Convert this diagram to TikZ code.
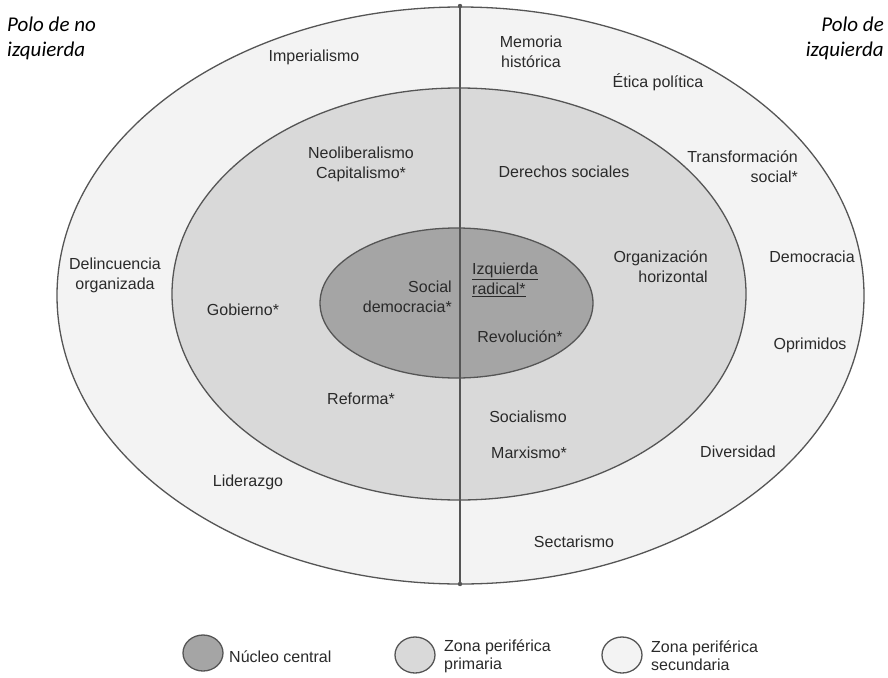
\documentclass[tikz,border=0pt]{standalone}
\usepackage{fontspec}
\setmainfont{Liberation Sans}
\newfontfamily\polofont{Carlito}
\definecolor{edgec}{HTML}{555555}
\definecolor{outerc}{HTML}{F3F3F3}
\definecolor{midc}{HTML}{D9D9D9}
\definecolor{corec}{HTML}{A5A5A5}
\definecolor{txtc}{HTML}{2A2A2A}
\begin{document}
\begin{tikzpicture}[x=1pt,y=-1pt,
  lbl/.style={font=\fontsize{16}{20}\selectfont, text=txtc, inner sep=0pt, align=center},
  leg/.style={font=\fontsize{16}{18}\selectfont, text=txtc, inner sep=0pt, align=left, anchor=west},
  polo/.style={font=\polofont\itshape\fontsize{21}{25}\selectfont, text=black, inner sep=0pt},
  zone/.style={draw=edgec, line width=1.3pt}]
\useasboundingbox (0,0) rectangle (888,677);
\fill[white] (0,0) rectangle (888,677);
% zones
\draw[zone, fill=outerc] (460.5,295.5) ellipse [x radius=403.5pt, y radius=288.5pt];
\draw[zone, fill=midc] (459,294) ellipse [x radius=287pt, y radius=206pt];
\draw[zone, fill=corec] (456.5,303) ellipse [x radius=136.5pt, y radius=75pt];
% axis
\coordinate (axtop) at (460,6);
\coordinate (axbot) at (460,584);
\draw[edgec, line width=1.3pt] (axtop) -- (axbot);
\fill[edgec] (axtop) circle[radius=2.2pt];
\fill[edgec] (axbot) circle[radius=2.2pt];
% poles
\node[polo, anchor=west, align=left] (pololeft) at (7,38) {Polo de no\\izquierda};
\node[polo, anchor=east, align=right] (poloright) at (884,38) {Polo de\\izquierda};
% labels
\node[lbl] (imp) at (314,57) {Imperialismo};
\node[lbl] (mem) at (531,52) {Memoria\\histórica};
\node[lbl] (etica) at (658,82) {Ética política};
\node[lbl, anchor=east, align=right] (transf) at (798,167) {Transformación\\social*};
\node[lbl] (democ) at (812,257) {Democracia};
\node[lbl, anchor=east, align=right] (orgh) at (708,267) {Organización\\horizontal};
\node[lbl] (derechos) at (564,172) {Derechos sociales};
\node[lbl] (neolib) at (361,164) {Neoliberalismo\\Capitalismo*};
\node[lbl] (delinc) at (115,275) {Delincuencia\\organizada};
\node[lbl] (gob) at (243,310) {Gobierno*};
\node[lbl, anchor=east, align=right] (socdem) at (452,297) {Social\\democracia*};
\node[lbl, anchor=west, align=left] (izqrad) at (472,280) {\underline{Izquierda}\\\underline{radical*}};
\node[lbl] (revol) at (520,337) {Revolución*};
\node[lbl] (reforma) at (361,399) {Reforma*};
\node[lbl] (lider) at (248,482) {Liderazgo};
\node[lbl] (social) at (528,417) {Socialismo};
\node[lbl] (marx) at (529,453) {Marxismo*};
\node[lbl] (oprim) at (810,345) {Oprimidos};
\node[lbl] (divers) at (738,452) {Diversidad};
\node[lbl] (sect) at (574,542) {Sectarismo};
% legend
\draw[zone, fill=corec] (203,653) ellipse [x radius=20pt, y radius=18pt];
\draw[zone, fill=midc] (415,655) ellipse [x radius=20pt, y radius=18pt];
\draw[zone, fill=outerc] (622,655) ellipse [x radius=20pt, y radius=18pt];
\node[leg] (legcore) at (229,657) {Núcleo central};
\node[leg] (legprim) at (444,656) {Zona periférica\\primaria};
\node[leg] (legsec) at (651,656) {Zona periférica\\secundaria};
\end{tikzpicture}
\end{document}
